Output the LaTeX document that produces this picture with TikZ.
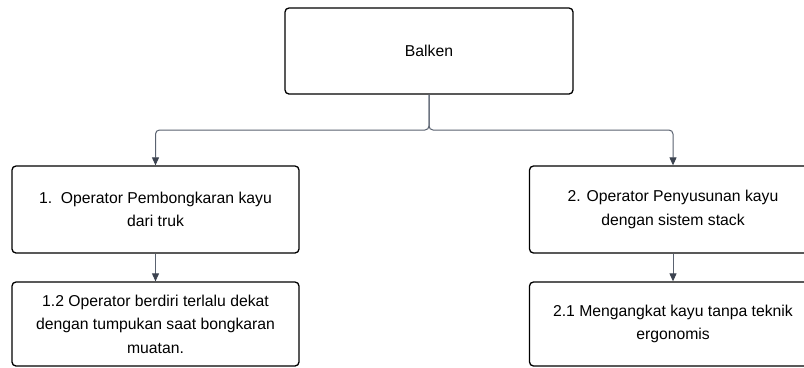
\documentclass[tikz,border=0pt]{standalone}
\usepackage{fontspec}
\setmainfont{Liberation Sans}
\usetikzlibrary{arrows.meta}
\definecolor{linkgray}{HTML}{5A6270}
\definecolor{tipgray}{HTML}{3C4350}
\tikzset{
  box/.style={draw=black, line width=1.3bp, rounded corners=4bp, fill=white,
    align=center, inner sep=0pt, minimum width=287bp,
    font=\fontsize{15.8}{23.5}\selectfont},
  link/.style={draw=linkgray, line width=1bp, rounded corners=4bp,
    -{Triangle[length=8bp,width=7bp,fill=tipgray,color=tipgray]}}
}
\begin{document}
\begin{tikzpicture}[x=1bp,y=-1bp]
  \useasboundingbox (0,0) rectangle (804,367);
  \clip (0,0) rectangle (804,367);
  \fill[white] (0,0) rectangle (804,367);

  \node[box, minimum width=288bp, minimum height=86bp] (root) at (429,51) {Balken};

  \node[box, minimum height=87bp] (a) at (155.5,209.5)
    {1.~~Operator Pembongkaran kayu\\dari truk};
  \node[box, minimum height=84bp] (a2) at (155.5,324)
    {1.2 Operator berdiri terlalu dekat\\dengan tumpukan saat bongkaran\\muatan.};

  \node[box, minimum height=87bp] (b) at (673,209.5)
    {2. Operator Penyusunan kayu\\dengan sistem stack};
  \node[box, minimum height=84bp] (b2) at (673,324)
    {2.1 Mengangkat kayu tanpa teknik\\ergonomis};

  \coordinate (split) at (429,130);

  \draw[link] (root.south) -- (split) -| (a.north);
  \draw[link] (root.south) -- (split) -| (b.north);
  \draw[link] (a.south) -- (a2.north);
  \draw[link] (b.south) -- (b2.north);
\end{tikzpicture}
\end{document}
